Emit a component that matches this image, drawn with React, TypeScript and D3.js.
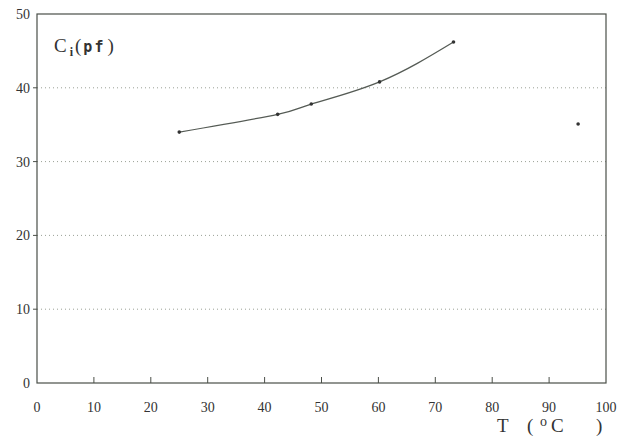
import React from 'react'
import * as d3 from 'd3'

const width = 619
const height = 436
const margin = { top: 14, right: 13, bottom: 53, left: 37 }

const tempC = [25, 42.3, 48.2, 60.2, 73.2]
const capPf = [34, 36.4, 37.8, 40.8, 46.2]
const outlier = [95.1, 35.1]
const xTicks = [0, 10, 20, 30, 40, 50, 60, 70, 80, 90, 100]
const yTicks = [0, 10, 20, 30, 40, 50]

const ink = '#4a4f48'

function App() {
  const x = d3.scaleLinear().domain([0, 100]).range([margin.left, width - margin.right])
  const y = d3.scaleLinear().domain([0, 50]).range([height - margin.bottom, margin.top])
  const pts = tempC.map((t, i) => [t, capPf[i]] as [number, number])
  const line = d3.line<[number, number]>().x(d => x(d[0])).y(d => y(d[1])).curve(d3.curveNatural)

  return (
    <svg width={width} height={height} style={{ position: 'absolute', left: 0, top: 0, background: '#fff' }}
      fontFamily="'Liberation Serif', 'DejaVu Serif', serif">
      {/* grid */}
      {yTicks.slice(1, -1).map(v =>
        <line key={'g' + v} x1={x(0)} x2={x(100)} y1={y(v)} y2={y(v)} stroke="#9aa096" strokeWidth={1} strokeDasharray="1 3" />
      )}
      {/* frame */}
      <rect x={x(0)} y={y(50)} width={x(100) - x(0)} height={y(0) - y(50)} fill="none" stroke={ink} strokeWidth={1.2} />
      {/* x ticks */}
      {xTicks.slice(1, -1).map(v =>
        <line key={'xt' + v} x1={x(v)} x2={x(v)} y1={y(0)} y2={y(0) - 6} stroke={ink} strokeWidth={1} />
      )}
      {xTicks.map(v =>
        <text key={'xl' + v} x={x(v)} y={y(0) + 29} textAnchor="middle" fontSize={14} fill="#333">{v}</text>
      )}
      {/* y ticks */}
      {yTicks.slice(1, -1).map(v =>
        <line key={'yt' + v} x1={x(0) - 4} x2={x(0)} y1={y(v)} y2={y(v)} stroke={ink} strokeWidth={1} />
      )}
      {yTicks.map(v =>
        <text key={'yl' + v} x={x(0) - 7} y={y(v) + 5} textAnchor="end" fontSize={14} fill="#333">{v}</text>
      )}
      {/* curve */}
      <path d={line(pts) || ''} fill="none" stroke="#555b55" strokeWidth={1.3} />
      {pts.map((d, i) =>
        <circle key={'p' + i} cx={x(d[0])} cy={y(d[1])} r={1.8} fill="#333" />
      )}
      <circle cx={x(outlier[0])} cy={y(outlier[1])} r={1.8} fill="#333" />
      {/* labels */}
      <text x={54} y={52} fontSize={19} fill="#333">
        C<tspan fontSize={12} fontWeight="bold" dy={4} dx={3}>i</tspan>
        <tspan dy={-4} dx={2}>(</tspan>
        <tspan fontSize={15} fontWeight="bold" dx={2} letterSpacing={2} fontFamily="'DejaVu Sans Mono', monospace">pf</tspan>
        <tspan dx={2}>)</tspan>
      </text>
      <text x={497} y={432} fontSize={19} fill="#333" style={{ whiteSpace: 'pre' }}>
        T<tspan x={527}>(</tspan><tspan x={540} fontSize={14} dy={-6}>o</tspan><tspan x={551} dy={6}>C</tspan><tspan x={596}>)</tspan>
      </text>
    </svg>
  )
}

export default App
